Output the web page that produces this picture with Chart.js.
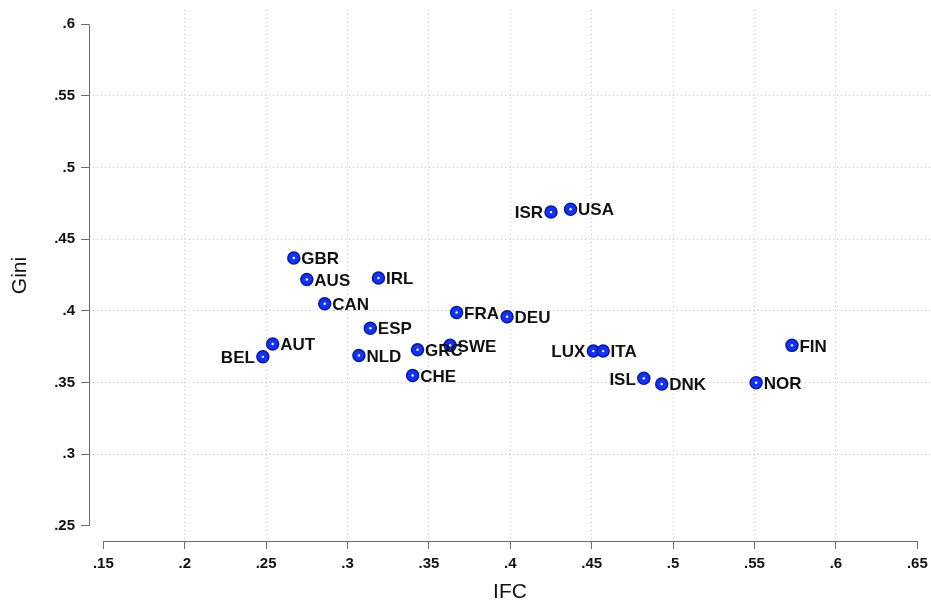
<!DOCTYPE html>
<html>
<head>
<meta charset="utf-8">
<script src="https://cdn.jsdelivr.net/npm/chart.js@4.4.1/dist/chart.umd.min.js"></script>
<style>
  html, body { margin: 0; padding: 0; background: #fff; }
  #wrap { width: 931px; height: 602px; position: relative; }
</style>
</head>
<body>
<div id="wrap"><canvas id="grafico"></canvas></div>
<script>
// Datos (IFC vs Gini por país)
const paises = ['GBR', 'AUS', 'IRL', 'CAN', 'FRA', 'DEU', 'ESP', 'AUT', 'SWE', 'GRC', 'NLD',
                'BEL', 'CHE', 'ISR', 'USA', 'LUX', 'ITA', 'ISL', 'DNK', 'NOR', 'FIN'];
const ifc  = [0.267, 0.275, 0.319, 0.286, 0.367, 0.398, 0.314, 0.254, 0.363, 0.343, 0.307,
              0.248, 0.340, 0.425, 0.437, 0.451, 0.457, 0.482, 0.493, 0.551, 0.573];
const gini = [0.437, 0.422, 0.423, 0.405, 0.399, 0.396, 0.388, 0.377, 0.376, 0.373, 0.369,
              0.368, 0.355, 0.469, 0.471, 0.372, 0.372, 0.353, 0.349, 0.350, 0.376];

// Marcas de los ejes
const ticksX = [0.15, 0.2, 0.25, 0.3, 0.35, 0.4, 0.45, 0.5, 0.55, 0.6, 0.65];
const ticksY = [0.25, 0.3, 0.35, 0.4, 0.45, 0.5, 0.55, 0.6];

const fuente = "'Liberation Sans', Helvetica, Arial, sans-serif";
const etiquetasIzq = ['BEL', 'ISR', 'LUX', 'ISL'];

// quitar el cero inicial: 0.35 -> .35
function sinCero(v) {
    return String(v).replace(/^0(?=\.)/, '');
}

// gris punteado salvo en los extremos del eje
function colorRejilla(extremos) {
    return ctx => (ctx.tick && extremos.includes(ctx.tick.value)) ? 'rgba(0,0,0,0)' : '#c4c4c4';
}

// --- Líneas de los ejes (solo entre la primera y la última marca, estilo Stata) ---
const ejes = {
    id: 'ejes',
    afterDraw(chart) {
        const { ctx, chartArea, scales: { x, y } } = chart;
        ctx.save();
        ctx.strokeStyle = '#6b6b6b';
        ctx.lineWidth = 1;
        ctx.beginPath();
        const xl = Math.round(chartArea.left) + 0.5;
        ctx.moveTo(xl, y.getPixelForValue(ticksY[0]));
        ctx.lineTo(xl, y.getPixelForValue(ticksY[ticksY.length - 1]));
        const yb = Math.round(chartArea.bottom) + 0.5;
        ctx.moveTo(x.getPixelForValue(ticksX[0]), yb);
        ctx.lineTo(x.getPixelForValue(ticksX[ticksX.length - 1]), yb);
        ctx.stroke();
        ctx.restore();
    }
};

// --- Nombres de los países junto a cada punto ---
const nombres = {
    id: 'nombres',
    afterDatasetsDraw(chart) {
        const { ctx } = chart;
        const meta = chart.getDatasetMeta(0);
        ctx.save();
        ctx.font = 'bold 17px ' + fuente;
        ctx.fillStyle = '#111';
        ctx.textBaseline = 'middle';
        meta.data.forEach((pt, i) => {
            const txt = paises[i];
            if (etiquetasIzq.includes(txt)) {
                ctx.textAlign = 'right';
                ctx.fillText(txt, pt.x - 8, pt.y + 1.5);
            } else {
                ctx.textAlign = 'left';
                ctx.fillText(txt, pt.x + 7.5, pt.y + 1.5);
            }
        });
        ctx.restore();
    }
};

const puntos = ifc.map((v, i) => ({ x: v, y: gini[i] }));

new Chart(document.getElementById('grafico'), {
    type: 'scatter',
    data: {
        datasets: [{
            data: puntos,
            pointRadius: 6,
            pointBackgroundColor: '#1433f5',
            pointBorderColor: '#0a1c8c',
            pointBorderWidth: 1.5,
            order: 2
        }, {
            data: puntos,
            pointRadius: 1.2,
            pointBackgroundColor: '#ffffff',
            pointBorderWidth: 0,
            order: 1
        }]
    },
    options: {
        responsive: true,
        maintainAspectRatio: false,
        animation: false,
        layout: { autoPadding: false, padding: { top: 10, right: 0, bottom: 0, left: 0 } },
        plugins: { legend: { display: false }, tooltip: { enabled: false } },
        scales: {
            x: {
                type: 'linear',
                min: 0.1412,
                max: 0.6584,
                afterBuildTicks: s => { s.ticks = ticksX.map(v => ({ value: v })); },
                afterFit: s => { s.height = 61; s.paddingLeft = 0; s.paddingRight = 0; },
                ticks: {
                    autoSkip: false,
                    maxRotation: 0,
                    padding: 6,
                    color: '#111',
                    font: { family: fuente, size: 15, weight: 'bold' },
                    callback: v => sinCero(v)
                },
                grid: {
                    color: colorRejilla([0.15, 0.65]),
                    tickColor: '#6b6b6b',
                    tickLength: 8,
                    lineWidth: 1
                },
                border: { display: false, dash: [1, 3] },
                title: {
                    display: true,
                    text: 'IFC',
                    color: '#111',
                    font: { family: fuente, size: 21, lineHeight: 0.9 },
                    padding: { top: 0, bottom: 0 }
                }
            },
            y: {
                type: 'linear',
                min: 0.2395,
                max: 0.6100,
                afterBuildTicks: s => { s.ticks = ticksY.map(v => ({ value: v })); },
                afterFit: s => { s.width = 89; s.paddingTop = 0; s.paddingBottom = 0; },
                ticks: {
                    autoSkip: false,
                    padding: 6,
                    color: '#111',
                    font: { family: fuente, size: 15, weight: 'bold' },
                    callback: v => sinCero(v)
                },
                grid: {
                    color: colorRejilla([0.25, 0.6]),
                    tickColor: '#6b6b6b',
                    tickLength: 8,
                    lineWidth: 1
                },
                border: { display: false, dash: [1, 3] },
                title: {
                    display: true,
                    text: 'Gini',
                    color: '#111',
                    font: { family: fuente, size: 21, lineHeight: 1 },
                    padding: { top: 10, bottom: 0 }
                }
            }
        }
    },
    plugins: [ejes, nombres]
});
</script>
</body>
</html>
